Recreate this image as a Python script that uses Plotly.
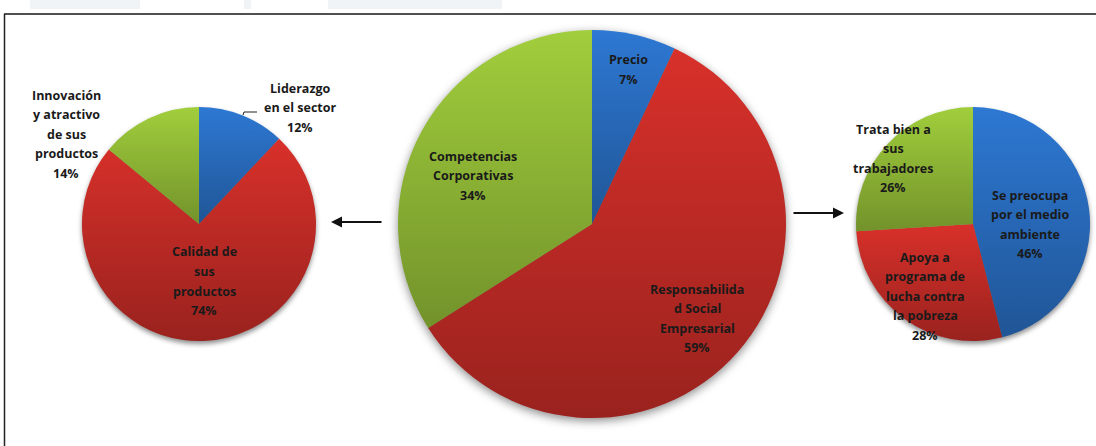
import base64
import math
import plotly.graph_objects as go

# ---------------- data ----------------
left_labels = ["Liderazgo en el sector", "Calidad de sus productos", "Innovación y atractivo de sus productos"]
left_values = [12, 74, 14]
left_text = [["Liderazgo", "en el sector"], ["Calidad de", "sus", "productos"], ["Innovación", "y atractivo", "de sus", "productos"]]

center_labels = ["Precio", "Responsabilidad Social Empresarial", "Competencias Corporativas"]
center_values = [7, 59, 34]
center_text = [["Precio"], ["Responsabilida", "d Social", "Empresarial"], ["Competencias", "Corporativas"]]

right_labels = ["Se preocupa por el medio ambiente", "Apoya a programa de lucha contra la pobreza", "Trata bien a sus trabajadores"]
right_values = [46, 28, 26]
right_text = [["Se preocupa", "por el medio", "ambiente"], ["Apoya a", "programa de", "lucha contra", "la pobreza"], ["Trata bien a", "sus", "trabajadores"]]

colors = ["#2D78D3", "#D8302A", "#A1CE3C"]

W, H = 1096, 446


def px(x):
    return x / W


def py(y):
    return 1 - y / H


# pie geometry (pixels): centre x, centre y, radius
pies = [
    dict(labels=left_labels, values=left_values, text=left_text, cx=199, cy=224, r=117,
         label_pos=[(300, 88), (204, 252), (66, 95)]),
    dict(labels=center_labels, values=center_values, text=center_text, cx=592, cy=224, r=194,
         label_pos=[(628, 60), (697, 289), (473, 156)]),
    dict(labels=right_labels, values=right_values, text=right_text, cx=973, cy=224, r=117,
         label_pos=[(1030, 195), (925, 257), (893, 129)]),
]

fig = go.Figure()
images = []
annotations = []
shapes = []


def svg_uri(svg):
    return "data:image/svg+xml;base64," + base64.b64encode(svg.encode()).decode()


def shading_svg(values):
    tot = float(sum(values))
    paths = []
    a0 = 0.0
    for v in values:
        a1 = a0 + v / tot * 2 * math.pi
        x0, y0 = 100 + 100 * math.sin(a0), 100 - 100 * math.cos(a0)
        x1, y1 = 100 + 100 * math.sin(a1), 100 - 100 * math.cos(a1)
        large = 1 if (a1 - a0) > math.pi else 0
        paths.append(
            f"<path d='M100 100 L{x0:.3f} {y0:.3f} A100 100 0 {large} 1 {x1:.3f} {y1:.3f} Z' fill='url(#g)'/>"
        )
        a0 = a1
    return (
        "<svg xmlns='http://www.w3.org/2000/svg' width='200' height='200' viewBox='0 0 200 200'>"
        "<defs><linearGradient id='g' x1='0' y1='0' x2='0' y2='1'>"
        "<stop offset='0' stop-color='#000' stop-opacity='0'/>"
        "<stop offset='1' stop-color='#000' stop-opacity='0.29'/>"
        "</linearGradient></defs>" + "".join(paths) + "</svg>"
    )


shadow_svg = (
    "<svg xmlns='http://www.w3.org/2000/svg' width='240' height='240' viewBox='0 0 240 240'>"
    "<defs><filter id='f' x='-20%' y='-20%' width='140%' height='140%'>"
    "<feGaussianBlur stdDeviation='2.5'/></filter></defs>"
    "<circle cx='120' cy='120' r='100' fill='#000' fill-opacity='0.45' filter='url(#f)'/></svg>"
)

for p in pies:
    cx, cy, r = p["cx"], p["cy"], p["r"]
    fig.add_trace(go.Pie(
        labels=p["labels"], values=p["values"], sort=False, direction="clockwise", rotation=0,
        marker=dict(colors=colors, line=dict(width=0)),
        textinfo="none", hoverinfo="label+percent", showlegend=False,
        domain=dict(x=[px(cx - r), px(cx + r)], y=[py(cy + r), py(cy - r)]),
    ))
    # shading overlay
    images.append(dict(source=svg_uri(shading_svg(p["values"])), xref="paper", yref="paper",
                       x=px(cx - r), y=py(cy - r), sizex=2 * r / W, sizey=2 * r / H,
                       xanchor="left", yanchor="top", sizing="stretch", layer="above"))
    # soft shadow
    rs = r * 1.2
    images.append(dict(source=svg_uri(shadow_svg), xref="paper", yref="paper",
                       x=px(cx - rs), y=py(cy + 3 - rs), sizex=2 * rs / W, sizey=2 * rs / H,
                       xanchor="left", yanchor="top", sizing="stretch", layer="below"))
    # labels
    tot = sum(p["values"])
    for lines, v, (lx, ly) in zip(p["text"], p["values"], p["label_pos"]):
        all_lines = lines + [f"{round(100 * v / tot)}%"]
        for i, t in enumerate(all_lines):
            annotations.append(dict(x=px(lx), y=py(ly + i * 19.6), xref="paper", yref="paper",
                                    text=t, showarrow=False, xanchor="center", yanchor="middle",
                                    font=dict(family="Open Sans", size=12.5, color="#1a1a1a",
                                              weight="bold")))

# arrows
annotations.append(dict(x=px(331), y=py(222), xref="paper", yref="paper", ax=52, ay=0, text="",
                        showarrow=True, arrowhead=2, arrowsize=1.1, arrowwidth=2, arrowcolor="#111"))
annotations.append(dict(x=px(844), y=py(213), xref="paper", yref="paper", ax=-52, ay=0, text="",
                        showarrow=True, arrowhead=2, arrowsize=1.1, arrowwidth=2, arrowcolor="#111"))

# frame lines
shapes.append(dict(type="line", xref="paper", yref="paper", x0=px(4), x1=1, y0=py(14), y1=py(14),
                   line=dict(color="#505050", width=2)))
shapes.append(dict(type="line", xref="paper", yref="paper", x0=px(4.5), x1=px(4.5), y0=py(14), y1=0,
                   line=dict(color="#222", width=1.5)))
# leader line for "Liderazgo"
shapes.append(dict(type="path", xref="paper", yref="paper",
                   path=f"M{px(243)},{py(115)} L{px(244)},{py(112)} L{px(257)},{py(112)}",
                   line=dict(color="#222", width=1)))
# faint header watermark
for x0, x1 in [(30, 140), (244, 251), (328, 502)]:
    shapes.append(dict(type="rect", xref="paper", yref="paper", x0=px(x0), x1=px(x1), y0=py(9), y1=1,
                       fillcolor="#f1f4f6", line=dict(width=0), layer="below"))

fig.update_layout(
    width=W, height=H, margin=dict(l=0, r=0, t=0, b=0),
    paper_bgcolor="white", plot_bgcolor="white",
    showlegend=False, images=images, annotations=annotations, shapes=shapes,
)

fig.write_html("out.html")
